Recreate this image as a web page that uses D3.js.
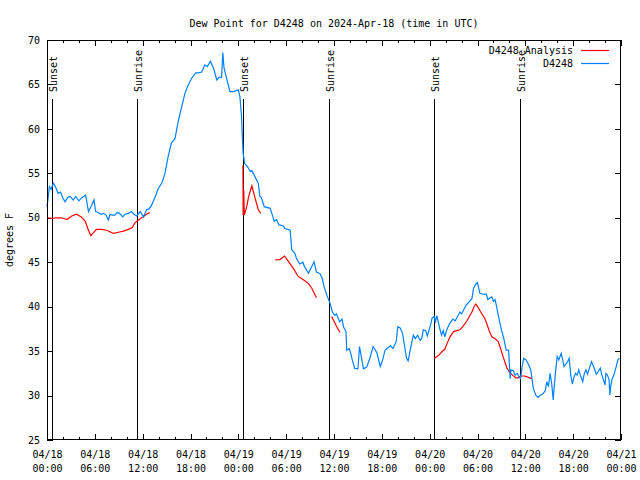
<!DOCTYPE html>
<html>
<head>
<meta charset="utf-8">
<script src="https://cdn.jsdelivr.net/npm/d3@7/dist/d3.min.js"></script>
<style>
  html, body { margin: 0; padding: 0; background: #fff; }
  svg { display: block; }
  text { font-family: "DejaVu Sans Mono", "Liberation Mono", monospace; font-size: 10px; fill: #000; }
</style>
</head>
<body>
<svg id="chart" width="640" height="480"></svg>
<script>
// ---------- data (hours after 2024-04-18 00:00 UTC, degrees F) ----------
const titleText = "Dew Point for D4248 on 2024-Apr-18 (time in UTC)";
const yLabel = "degrees F";
const seriesNames = ["D4248 Analysis", "D4248"];
const yTicks = [25, 30, 35, 40, 45, 50, 55, 60, 65, 70];

const sunHours  = [0.59, 11.33, 24.63, 35.42, 48.59, 59.37];
const sunLabels = ["Sunset", "Sunrise", "Sunset", "Sunrise", "Sunset", "Sunrise"];

const stationHours = [0.0,0.3,0.5,0.8,1.1,1.4,1.7,2.0,2.26,2.6,2.9,3.3,3.6,4.0,4.3,4.6,4.85,5.2,5.6,5.9,6.1,6.4,6.8,7.1,7.4,7.7,7.9,8.2,8.5,8.8,9.1,9.5,9.8,10.2,10.6,10.9,11.25,11.7,12.1,12.5,12.8,13.1,13.5,13.96,14.4,14.8,15.2,15.6,16.05,16.5,16.9,17.3,17.7,18.15,18.65,19.0,19.4,19.8,20.1,20.5,20.9,21.3,21.6,21.9,22.05,22.2,22.5,22.95,23.4,24.0,24.2,24.4,24.5,24.6,24.8,25.1,25.25,25.5,25.7,26.1,26.5,26.7,26.9,27.25,28.0,28.2,28.5,28.8,29.1,29.6,29.85,30.5,30.7,31.1,31.3,31.7,32.1,32.3,32.8,33.2,33.5,33.8,34.25,34.5,34.75,35.1,35.5,35.8,36.1,36.3,36.7,37.0,37.2,37.5,37.6,37.9,38.1,38.3,38.6,39.0,39.2,39.5,39.7,40.1,40.5,40.9,41.2,41.4,41.8,42.1,42.4,42.8,43.1,43.4,43.8,44.0,44.3,44.6,44.9,45.1,45.3,45.6,45.95,46.2,46.5,46.8,47.0,47.2,47.5,47.7,48.1,48.3,48.6,48.7,48.9,49.1,49.3,49.5,49.7,49.9,50.1,50.5,50.9,51.2,51.5,51.8,52.0,52.3,52.6,53.0,53.3,53.5,53.8,54.0,54.3,54.7,55.1,55.3,55.6,55.8,56.0,56.2,56.4,56.6,57.0,57.3,57.6,57.9,58.1,58.2,58.5,58.7,59.0,59.2,59.4,59.6,59.8,60.1,60.5,60.7,61.0,61.3,61.6,61.9,62.2,62.5,62.7,62.9,63.1,63.3,63.5,63.6,63.8,64.0,64.2,64.5,64.7,64.85,65.1,65.3,65.5,65.7,65.9,66.1,66.3,66.5,66.7,66.9,67.2,67.4,67.6,67.8,68.1,68.3,68.5,68.7,68.9,69.1,69.4,69.6,70.0,70.1,70.3,70.5,70.6,70.7,70.9,71.1,71.4,71.6,71.8];
const stationValues = [51.2,53.5,53.2,53.9,53.4,52.75,52.9,52.2,51.8,52.3,52.4,52.0,52.4,51.9,52.2,52.4,52.56,50.7,51.4,52.0,50.7,50.6,50.4,50.5,50.3,49.75,50.4,50.3,50.3,50.6,50.5,50.1,50.4,50.5,50.7,50.4,50.2,50.7,50.1,50.9,51.0,51.4,52.2,53.3,53.9,55.0,56.9,58.4,58.9,61.0,62.5,64.0,64.9,65.7,66.3,66.3,66.4,67.2,67.0,67.6,66.8,65.5,65.8,65.8,68.6,66.9,65.8,64.2,64.2,64.4,63.6,61.4,59.1,57.3,56.1,55.8,55.6,55.2,55.3,54.6,53.9,52.4,52.25,51.25,51.06,50.5,49.6,49.8,49.2,49.1,48.8,48.6,46.4,46.0,45.4,44.8,45.0,44.5,43.75,44.5,45.06,43.9,43.7,43.25,42.25,41.3,40.4,39.4,39.0,39.2,38.3,38.6,37.7,37.2,35.1,35.3,34.75,34.0,33.06,33.0,35.5,34.0,33.0,33.2,34.2,35.5,35.1,34.75,33.25,34.0,35.1,35.4,35.6,35.3,36.06,37.75,37.6,37.0,35.3,34.2,33.9,35.3,36.8,36.4,36.8,36.2,36.4,37.4,37.3,36.7,37.9,38.7,38.9,38.2,39.0,38.2,37.4,36.8,37.3,36.6,37.3,38.1,38.6,38.4,38.9,39.4,39.2,39.7,40.2,40.6,40.9,42.06,42.55,42.7,41.5,41.4,41.4,40.8,41.0,41.1,40.6,40.8,40.0,39.06,37.4,36.4,35.1,35.1,31.9,32.9,32.8,32.3,32.5,32.1,31.9,33.25,34.2,34.0,33.3,32.8,30.8,30.06,29.8,30.06,30.2,30.55,31.56,31.0,32.5,31.4,29.5,30.8,32.8,34.4,34.0,34.75,34.0,33.25,33.6,33.8,34.2,32.3,31.3,32.1,32.5,32.3,32.9,32.3,31.56,32.5,32.9,32.4,33.25,33.8,33.4,32.9,32.4,32.65,33.1,32.3,31.2,32.5,32.3,31.8,30.06,31.0,31.9,32.3,33.25,34.0,34.2];

// analysis series; null values mark gaps
const analysisHours = [0.1,0.6,1.2,1.8,2.5,3.1,3.7,4.3,4.8,5.2,5.5,5.8,6.2,6.8,7.5,8.3,9.1,9.6,10.2,10.7,11.0,11.5,12.0,12.5,12.9,
  18,
  24.58,24.6,24.68,24.75,25.05,25.3,25.7,26.1,26.5,26.8,
  27.5,
  28.6,29.2,29.8,30.3,30.9,31.5,32.2,32.8,33.2,33.8,
  34.8,
  35.7,36.25,36.75,
  42,
  48.6,49.1,49.5,49.9,50.2,50.55,51.0,51.4,51.8,52.2,52.6,52.98,53.3,53.56,53.8,54.1,54.4,54.9,55.2,55.5,55.8,56.2,56.6,56.9,57.2,57.5,57.7,58.1,58.4,58.8,59.1,59.4,59.9,60.4,60.8];
const analysisValues = [50.0,49.94,50.0,50.0,49.8,50.2,50.4,50.1,49.6,48.6,48.0,48.3,48.7,48.7,48.6,48.25,48.4,48.5,48.7,48.9,49.4,49.75,50.1,50.4,50.6,
  null,
  55.9,50.3,53.1,50.3,51.25,52.4,53.6,52.2,50.9,50.5,
  null,
  45.25,45.3,45.7,45.06,44.3,43.4,43.0,42.6,42.1,41.0,
  null,
  38.9,37.9,37.1,
  null,
  34.2,34.5,34.9,35.2,35.9,36.6,37.2,37.3,37.4,37.8,38.3,38.9,39.4,40.0,40.3,39.9,39.4,38.7,38.0,37.2,36.6,36.4,36.06,35.3,34.4,33.6,33.06,32.5,32.3,32.0,32.0,32.2,32.2,32.05,31.9];

const colors = ["#ff0000", "#0080ff"];

// ---------- chart ----------
const svg = d3.select("#chart");
const L = 47, R = 621, T = 40, B = 440;
const t0 = Date.UTC(2024, 3, 18, 0, 0);
const hourToDate = h => new Date(t0 + h * 3600e3);

const x = d3.scaleUtc().domain([hourToDate(0), hourToDate(72)]).range([L, R]);
const y = d3.scaleLinear().domain([25, 70]).range([B, T]);

const xTicks = d3.utcHour.every(2).range(hourToDate(0), hourToDate(72.01));
const isMajor = d => d.getUTCHours() % 6 === 0;
const fmtDay = d3.utcFormat("%m/%d"), fmtTime = d3.utcFormat("%H:%M");

// title
svg.append("text").attr("x", 334).attr("y", 27).attr("text-anchor", "middle").text(titleText);

// y label
svg.append("text").attr("transform", "translate(13,240) rotate(-90)")
  .attr("text-anchor", "middle").text(yLabel);

// bottom axis
const gB = svg.append("g").attr("transform", `translate(0,${B})`)
  .call(d3.axisBottom(x).tickValues(xTicks).tickSizeInner(-6).tickSizeOuter(0).tickPadding(11).tickFormat(() => ""));
gB.select(".domain").remove();
gB.selectAll(".tick").each(function(d) {
  const g = d3.select(this);
  g.select("line").attr("y2", isMajor(d) ? -6 : -3).attr("stroke", "#000").attr("shape-rendering", "crispEdges");
  const t = g.select("text").text(null);
  if (isMajor(d)) {
    t.append("tspan").attr("x", 0).text(fmtDay(d));
    t.append("tspan").attr("x", 0).attr("dy", "1.4em").text(fmtTime(d));
  }
});
gB.attr("font-family", null).attr("font-size", null);

// top axis (mirror)
const gT = svg.append("g").attr("transform", `translate(0,${T})`)
  .call(d3.axisTop(x).tickValues(xTicks).tickSizeInner(-6).tickSizeOuter(0).tickFormat(() => ""));
gT.select(".domain").remove();
gT.selectAll(".tick line").attr("y2", d => isMajor(d) ? 6 : 3).attr("stroke", "#000").attr("shape-rendering", "crispEdges");

// left axis
const gL = svg.append("g").attr("transform", `translate(${L},0)`)
  .call(d3.axisLeft(y).tickValues(yTicks).tickSizeInner(-6).tickSizeOuter(0).tickPadding(7));
gL.select(".domain").remove();
gL.attr("font-family", null).attr("font-size", null);
gL.selectAll(".tick line").attr("stroke", "#000").attr("shape-rendering", "crispEdges");
gL.selectAll(".tick text").attr("fill", "#000");

// right axis (mirror)
const gR = svg.append("g").attr("transform", `translate(${R},0)`)
  .call(d3.axisRight(y).tickValues(yTicks).tickSizeInner(-6).tickSizeOuter(0).tickFormat(() => ""));
gR.select(".domain").remove();
gR.selectAll(".tick line").attr("stroke", "#000").attr("shape-rendering", "crispEdges");

// sunrise / sunset markers
const sun = svg.append("g");
sunHours.forEach((h, i) => {
  const xp = Math.round(x(hourToDate(h))) + 0.5;
  sun.append("line").attr("x1", xp).attr("x2", xp).attr("y1", 99).attr("y2", B)
    .attr("stroke", "#000").attr("stroke-width", 1).attr("shape-rendering", "crispEdges");
  sun.append("text").attr("transform", `translate(${xp + 4},92) rotate(-90)`)
    .attr("text-anchor", "start").text(sunLabels[i]);
});

// data lines
const stationData = stationHours.map((h, i) => ({ t: hourToDate(h), v: stationValues[i] }));
const analysisData = analysisHours.map((h, i) => ({ t: hourToDate(h), v: analysisValues[i] }));
const line = d3.line().defined(d => d.v !== null).x(d => x(d.t)).y(d => y(d.v));

svg.append("path").datum(analysisData).attr("d", line)
  .attr("fill", "none").attr("stroke", colors[0]).attr("stroke-width", 1.2);
svg.append("path").datum(stationData).attr("d", line)
  .attr("fill", "none").attr("stroke", colors[1]).attr("stroke-width", 1.2);

// border
svg.append("rect").attr("x", L + 0.5).attr("y", T + 0.5).attr("width", R - L - 1).attr("height", B - T - 1)
  .attr("fill", "none").attr("stroke", "#000").attr("stroke-width", 1).attr("shape-rendering", "crispEdges");

// legend
const leg = svg.append("g");
seriesNames.forEach((name, i) => {
  const yy = 50 + i * 13;
  leg.append("text").attr("x", 573).attr("y", yy + 4).attr("text-anchor", "end").text(name);
  leg.append("line").attr("x1", 581).attr("x2", 609).attr("y1", yy + 0.5).attr("y2", yy + 0.5)
    .attr("stroke", colors[i]).attr("stroke-width", 1.2);
});
</script>
</body>
</html>
